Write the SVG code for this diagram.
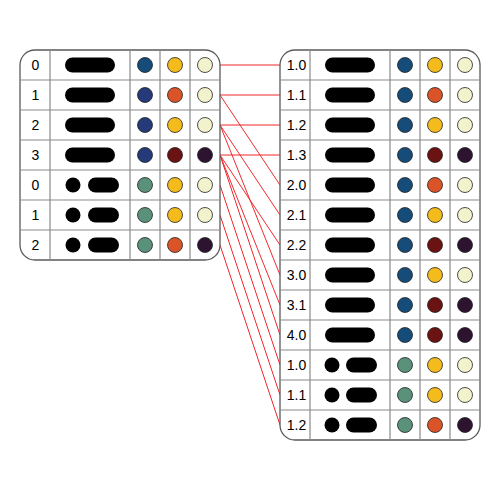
<svg xmlns="http://www.w3.org/2000/svg" width="500" height="500" viewBox="0 0 500 500">
<style>
.frame{fill:#fff;stroke:#5a5a5a;stroke-width:1.3}
.grid{stroke:#8a8a8a;stroke-width:1.2;fill:none}
.lbl{font-family:"Liberation Sans",Arial,sans-serif;font-size:14px;fill:#000;text-anchor:middle}
.pill{fill:#000}
.c{stroke:#222;stroke-width:0.8}
.b1{fill:#154c79}.b2{fill:#263a7a}.y{fill:#f4bb1d}.o{fill:#db5427}.w{fill:#f2f3cd}.r{fill:#6b1212}.p{fill:#2e1330}.g{fill:#5a917a}
.con line{stroke:#f0282d;stroke-width:1}
</style>
<rect width="500" height="500" fill="#fff"/>
<g id="connectors" class="con">
<line x1="220" y1="65" x2="280" y2="65"/>
<line x1="220" y1="95" x2="280" y2="95"/>
<line x1="220" y1="95" x2="280" y2="185"/>
<line x1="220" y1="125" x2="280" y2="125"/>
<line x1="220" y1="125" x2="280" y2="215"/>
<line x1="220" y1="125" x2="280" y2="275"/>
<line x1="220" y1="155" x2="280" y2="155"/>
<line x1="220" y1="155" x2="280" y2="245"/>
<line x1="220" y1="155" x2="280" y2="305"/>
<line x1="220" y1="155" x2="280" y2="335"/>
<line x1="220" y1="185" x2="280" y2="365"/>
<line x1="220" y1="215" x2="280" y2="395"/>
<line x1="220" y1="245" x2="280" y2="425"/>
</g>
<g id="left-table">
<rect class="frame" x="20" y="50" width="200" height="210" rx="15"/>
<path class="grid" d="M50 50V260M130 50V260M160 50V260M190 50V260M20 80H220M20 110H220M20 140H220M20 170H220M20 200H220M20 230H220"/>
<text class="lbl" x="35.5" y="70">0</text>
<text class="lbl" x="35.5" y="100">1</text>
<text class="lbl" x="35.5" y="130">2</text>
<text class="lbl" x="35.5" y="160">3</text>
<text class="lbl" x="35.5" y="190">0</text>
<text class="lbl" x="35.5" y="220">1</text>
<text class="lbl" x="35.5" y="250">2</text>
<rect class="pill" x="65" y="57.5" width="50" height="15" rx="7.5"/>
<rect class="pill" x="65" y="87.5" width="50" height="15" rx="7.5"/>
<rect class="pill" x="65" y="117.5" width="50" height="15" rx="7.5"/>
<rect class="pill" x="65" y="147.5" width="50" height="15" rx="7.5"/>
<circle class="pill" cx="73" cy="185" r="7.5"/><rect class="pill" x="88" y="177.5" width="31" height="15" rx="7.5"/>
<circle class="pill" cx="73" cy="215" r="7.5"/><rect class="pill" x="88" y="207.5" width="31" height="15" rx="7.5"/>
<circle class="pill" cx="73" cy="245" r="7.5"/><rect class="pill" x="88" y="237.5" width="31" height="15" rx="7.5"/>
<circle class="c b1" cx="145" cy="65" r="7.5"/><circle class="c y" cx="175" cy="65" r="7.5"/><circle class="c w" cx="205" cy="65" r="7.5"/>
<circle class="c b2" cx="145" cy="95" r="7.5"/><circle class="c o" cx="175" cy="95" r="7.5"/><circle class="c w" cx="205" cy="95" r="7.5"/>
<circle class="c b2" cx="145" cy="125" r="7.5"/><circle class="c y" cx="175" cy="125" r="7.5"/><circle class="c w" cx="205" cy="125" r="7.5"/>
<circle class="c b2" cx="145" cy="155" r="7.5"/><circle class="c r" cx="175" cy="155" r="7.5"/><circle class="c p" cx="205" cy="155" r="7.5"/>
<circle class="c g" cx="145" cy="185" r="7.5"/><circle class="c y" cx="175" cy="185" r="7.5"/><circle class="c w" cx="205" cy="185" r="7.5"/>
<circle class="c g" cx="145" cy="215" r="7.5"/><circle class="c y" cx="175" cy="215" r="7.5"/><circle class="c w" cx="205" cy="215" r="7.5"/>
<circle class="c g" cx="145" cy="245" r="7.5"/><circle class="c o" cx="175" cy="245" r="7.5"/><circle class="c p" cx="205" cy="245" r="7.5"/>
</g>
<g id="right-table">
<rect class="frame" x="280" y="50" width="200" height="390" rx="15"/>
<path class="grid" d="M310 50V440M390 50V440M420 50V440M450 50V440M280 80H480M280 110H480M280 140H480M280 170H480M280 200H480M280 230H480M280 260H480M280 290H480M280 320H480M280 350H480M280 380H480M280 410H480"/>
<text class="lbl" x="296.5" y="70">1.0</text>
<text class="lbl" x="296.5" y="100">1.1</text>
<text class="lbl" x="296.5" y="130">1.2</text>
<text class="lbl" x="296.5" y="160">1.3</text>
<text class="lbl" x="296.5" y="190">2.0</text>
<text class="lbl" x="296.5" y="220">2.1</text>
<text class="lbl" x="296.5" y="250">2.2</text>
<text class="lbl" x="296.5" y="280">3.0</text>
<text class="lbl" x="296.5" y="310">3.1</text>
<text class="lbl" x="296.5" y="340">4.0</text>
<text class="lbl" x="296.5" y="370">1.0</text>
<text class="lbl" x="296.5" y="400">1.1</text>
<text class="lbl" x="296.5" y="430">1.2</text>
<rect class="pill" x="325" y="57.5" width="50" height="15" rx="7.5"/>
<rect class="pill" x="325" y="87.5" width="50" height="15" rx="7.5"/>
<rect class="pill" x="325" y="117.5" width="50" height="15" rx="7.5"/>
<rect class="pill" x="325" y="147.5" width="50" height="15" rx="7.5"/>
<rect class="pill" x="325" y="177.5" width="50" height="15" rx="7.5"/>
<rect class="pill" x="325" y="207.5" width="50" height="15" rx="7.5"/>
<rect class="pill" x="325" y="237.5" width="50" height="15" rx="7.5"/>
<rect class="pill" x="325" y="267.5" width="50" height="15" rx="7.5"/>
<rect class="pill" x="325" y="297.5" width="50" height="15" rx="7.5"/>
<rect class="pill" x="325" y="327.5" width="50" height="15" rx="7.5"/>
<circle class="pill" cx="332" cy="365" r="7.5"/><rect class="pill" x="346" y="357.5" width="31" height="15" rx="7.5"/>
<circle class="pill" cx="332" cy="395" r="7.5"/><rect class="pill" x="346" y="387.5" width="31" height="15" rx="7.5"/>
<circle class="pill" cx="332" cy="425" r="7.5"/><rect class="pill" x="346" y="417.5" width="31" height="15" rx="7.5"/>
<circle class="c b1" cx="405" cy="65" r="7.5"/><circle class="c y" cx="435" cy="65" r="7.5"/><circle class="c w" cx="465" cy="65" r="7.5"/>
<circle class="c b1" cx="405" cy="95" r="7.5"/><circle class="c o" cx="435" cy="95" r="7.5"/><circle class="c w" cx="465" cy="95" r="7.5"/>
<circle class="c b1" cx="405" cy="125" r="7.5"/><circle class="c y" cx="435" cy="125" r="7.5"/><circle class="c w" cx="465" cy="125" r="7.5"/>
<circle class="c b1" cx="405" cy="155" r="7.5"/><circle class="c r" cx="435" cy="155" r="7.5"/><circle class="c p" cx="465" cy="155" r="7.5"/>
<circle class="c b1" cx="405" cy="185" r="7.5"/><circle class="c o" cx="435" cy="185" r="7.5"/><circle class="c w" cx="465" cy="185" r="7.5"/>
<circle class="c b1" cx="405" cy="215" r="7.5"/><circle class="c y" cx="435" cy="215" r="7.5"/><circle class="c w" cx="465" cy="215" r="7.5"/>
<circle class="c b1" cx="405" cy="245" r="7.5"/><circle class="c r" cx="435" cy="245" r="7.5"/><circle class="c p" cx="465" cy="245" r="7.5"/>
<circle class="c b1" cx="405" cy="275" r="7.5"/><circle class="c y" cx="435" cy="275" r="7.5"/><circle class="c w" cx="465" cy="275" r="7.5"/>
<circle class="c b1" cx="405" cy="305" r="7.5"/><circle class="c r" cx="435" cy="305" r="7.5"/><circle class="c p" cx="465" cy="305" r="7.5"/>
<circle class="c b1" cx="405" cy="335" r="7.5"/><circle class="c r" cx="435" cy="335" r="7.5"/><circle class="c p" cx="465" cy="335" r="7.5"/>
<circle class="c g" cx="405" cy="365" r="7.5"/><circle class="c y" cx="435" cy="365" r="7.5"/><circle class="c w" cx="465" cy="365" r="7.5"/>
<circle class="c g" cx="405" cy="395" r="7.5"/><circle class="c y" cx="435" cy="395" r="7.5"/><circle class="c w" cx="465" cy="395" r="7.5"/>
<circle class="c g" cx="405" cy="425" r="7.5"/><circle class="c o" cx="435" cy="425" r="7.5"/><circle class="c p" cx="465" cy="425" r="7.5"/>
</g>
</svg>
